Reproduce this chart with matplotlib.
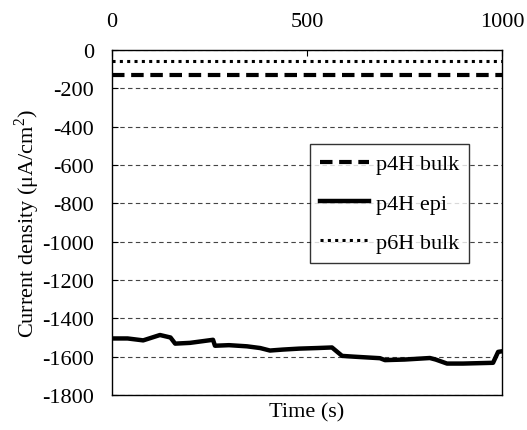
import matplotlib.pyplot as plt

plt.rcParams["font.family"] = ["Liberation Serif", "DejaVu Serif"]
plt.rcParams["mathtext.fontset"] = "custom"
plt.rcParams["mathtext.rm"] = "Liberation Serif"
plt.rcParams["axes.unicode_minus"] = False

# measured series (time in s, current density in uA/cm2)
bulk_4h_time = [0, 1000]
bulk_4h_current = [-130, -130]

bulk_6h_time = [0, 1000]
bulk_6h_current = [-56, -56]

epi_4h_time = [0, 40, 80, 123, 150, 162, 200, 259, 264, 300, 346, 380, 405,
               438, 480, 526, 564, 590, 620, 687, 700, 750, 815, 830, 859,
               900, 977, 990, 1000]
epi_4h_current = [-1505, -1505, -1515, -1487, -1500, -1532, -1528, -1512,
                  -1543, -1540, -1546, -1555, -1568, -1563, -1558, -1555,
                  -1552, -1596, -1600, -1608, -1618, -1615, -1607, -1615,
                  -1636, -1636, -1632, -1575, -1572]

x_ticks = [0, 500, 1000]
y_ticks = list(range(-1800, 1, 200))


def main():
    fig = plt.figure(figsize=(5.27, 4.31), dpi=100)
    ax = fig.add_axes([0.2125, 0.0812, 0.7401, 0.8005])

    ax.plot(bulk_4h_time, bulk_4h_current, color="black", linewidth=3,
            linestyle=(0, (3, 1.6)), label="p4H bulk")
    ax.plot(epi_4h_time, epi_4h_current, color="black", linewidth=3.2,
            label="p4H epi")
    ax.plot(bulk_6h_time, bulk_6h_current, color="black", linewidth=2.2,
            linestyle=(0, (1, 1.4)), label="p6H bulk")

    ax.set_xlim(0, 1000)
    ax.set_ylim(-1800, 0)
    ax.set_xticks(x_ticks)
    ax.set_yticks(y_ticks)
    ax.xaxis.tick_top()
    ax.tick_params(axis="both", direction="in", length=4, labelsize=16)
    ax.tick_params(axis="x", pad=14)
    ax.tick_params(axis="y", pad=13)

    ax.grid(axis="y", linestyle=(0, (4, 3)), color="#444444", linewidth=0.8)
    ax.set_axisbelow(True)

    ax.set_xlabel("Time (s)", fontsize=16, labelpad=5)
    ax.set_ylabel("Current density (μA/cm$^2$)", fontsize=16, labelpad=0)

    leg = ax.legend(loc="center right", bbox_to_anchor=(0.915, 0.555),
                    fontsize=16, frameon=True, fancybox=False,
                    edgecolor="black", handlelength=2.2, handletextpad=0.3,
                    labelspacing=0.85, borderpad=0.45, borderaxespad=0)
    leg.get_frame().set_linewidth(1)

    for spine in ax.spines.values():
        spine.set_linewidth(1)

    fig.savefig("out.png", dpi=100)
    plt.close(fig)


if __name__ == "__main__":
    main()
